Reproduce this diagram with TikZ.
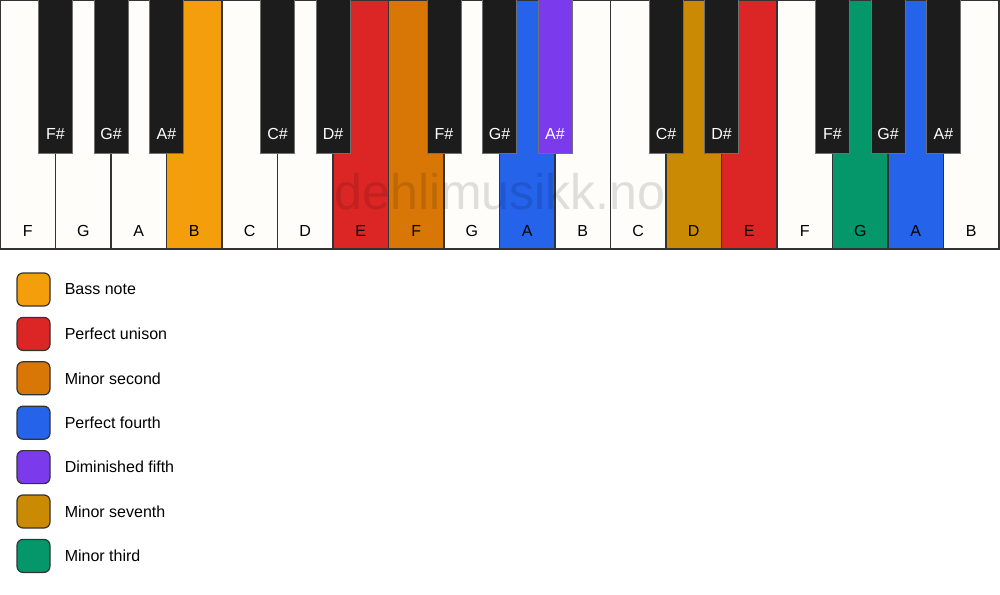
\documentclass[tikz,border=0pt]{standalone}
\usepackage{fontspec}
\setmainfont{Liberation Sans}
\usetikzlibrary{positioning}

\definecolor{keywhite}{HTML}{FFFDF9}
\definecolor{keyblack}{HTML}{1C1C1C}
\definecolor{keyline}{HTML}{333333}
\definecolor{bass}{HTML}{F59E0B}
\definecolor{unison}{HTML}{DC2626}
\definecolor{minsecond}{HTML}{D97706}
\definecolor{fourth}{HTML}{2563EB}
\definecolor{dimfifth}{HTML}{7C3AED}
\definecolor{minseventh}{HTML}{CA8A04}
\definecolor{minthird}{HTML}{059669}

\tikzset{
  whitekey/.style={draw=keyline, line width=1.2pt, minimum width=55.5pt, minimum height=249pt, inner sep=0pt, outer sep=0pt},
  blackkey/.style={draw=keyline!70, line width=1pt, minimum width=34pt, minimum height=153pt, inner sep=0pt, outer sep=0pt},
  keytext/.style={font=\fontsize{16}{19}\selectfont, inner sep=0pt},
  legbox/.style={draw=keyline, line width=1.2pt, rounded corners=6pt, minimum size=33pt, inner sep=0pt},
}

\begin{document}
\begin{tikzpicture}[x=1pt,y=-1pt]
\useasboundingbox[fill=white] (0,0) rectangle (1000,594);

% white keys
\foreach \n/\c [count=\i from 0] in {F/keywhite,G/keywhite,A/keywhite,B/bass,C/keywhite,D/keywhite,E/unison,F/minsecond,G/keywhite,A/fourth,B/keywhite,C/keywhite,D/minseventh,E/unison,F/keywhite,G/minthird,A/fourth,B/keywhite}{
  \node[whitekey, fill=\c] (w\i) at ({55.5*\i+27.75},124.5) {};
  \node[keytext, anchor=base] (wl\i) at ({55.5*\i+27.75},236) {\n};
}

% watermark
\node[font=\fontsize{50}{60}\selectfont, text=black, text opacity=0.12, anchor=base, inner sep=0pt] (mark) at (500,209) {dehlimusikk.no};

% black keys
\foreach \k/\n/\c in {1/F\#/keyblack,2/G\#/keyblack,3/A\#/keyblack,5/C\#/keyblack,6/D\#/keyblack,8/F\#/keyblack,9/G\#/keyblack,10/A\#/dimfifth,12/C\#/keyblack,13/D\#/keyblack,15/F\#/keyblack,16/G\#/keyblack,17/A\#/keyblack}{
  \node[blackkey, fill=\c] (b\k) at ({55.5*\k},76.5) {};
  \node[keytext, text=white, anchor=base] (bl\k) at ({55.5*\k},139) {\n};
}

% legend
\foreach \c/\t [count=\i from 0] in {bass/Bass note,unison/Perfect unison,minsecond/Minor second,fourth/Perfect fourth,dimfifth/Diminished fifth,minseventh/Minor seventh,minthird/Minor third}{
  \node[legbox, fill=\c] (lb\i) at (33.5,{289.5+44.4*\i}) {};
  \node[keytext, right=14pt of lb\i] (lt\i) {\t};
}
\end{tikzpicture}
\end{document}
